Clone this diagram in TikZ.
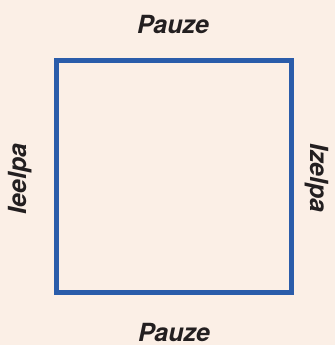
\documentclass[tikz,border=0pt]{standalone}
\usepackage{fontspec}
\setmainfont{TeX Gyre Heros}
\usepackage{xcolor}
\usepackage{tikz}
\usetikzlibrary{positioning}

\definecolor{paper}{HTML}{FBEFE6}
\definecolor{frameblue}{HTML}{2A5CAA}
\definecolor{ink}{HTML}{231F20}

\begin{document}
\begin{tikzpicture}[
        x=1pt, y=1pt,
        frame/.style={rectangle, draw=frameblue, line width=5pt, minimum width=235pt, minimum height=232pt, inner sep=0pt},
        side/.style={font=\fontsize{25}{30}\selectfont\bfseries\itshape, text=ink, inner sep=0pt, anchor=base}
    ]
        % Background
        \fill[paper] (0,0) rectangle (335,345);
        \useasboundingbox (0,0) rectangle (335,345);

        % Square
        \node[frame] (square) at (173.5,168) {};

        % Labels
        \node[side] (top) at (173,311) {Pauze};
        \node[side] (bottom) at (174,3.5) {Pauze};
        \node[side, rotate=90] (left) at (27,166) {Ieelpa};
        \node[side, rotate=-90] (right) at (310,167) {Izelpa};
    \end{tikzpicture}
\end{document}
